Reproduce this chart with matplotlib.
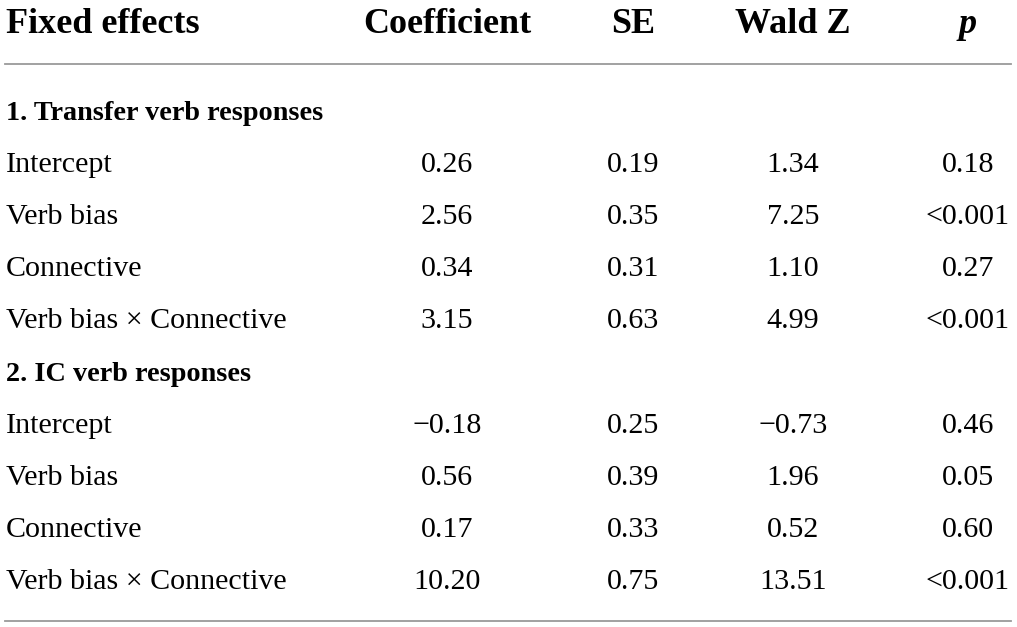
import matplotlib
matplotlib.use("Agg")
import matplotlib.pyplot as plt

# =============================================================================
# DATOS DE LA TABLA
# =============================================================================

headers = ["Fixed effects", "Coefficient", "SE", "Wald Z", "p"]
sections = ["1. Transfer verb responses", "2. IC verb responses"]
effects = ["Intercept", "Verb bias", "Connective", "Verb bias \u00d7 Connective"]

coef = [[0.26, 2.56, 0.34, 3.15], [-0.18, 0.56, 0.17, 10.20]]
se = [[0.19, 0.35, 0.31, 0.63], [0.25, 0.39, 0.33, 0.75]]
wald_z = [[1.34, 7.25, 1.10, 4.99], [-0.73, 1.96, 0.52, 13.51]]
p_vals = [["0.18", "<0.001", "0.27", "<0.001"], ["0.46", "0.05", "0.60", "<0.001"]]

# =============================================================================
# DIBUJO
# =============================================================================

W, H = 1017, 627
fig = plt.figure(figsize=(W / 100, H / 100), dpi=100)
ax = fig.add_axes([0, 0, 1, 1])
ax.set_xlim(0, W)
ax.set_ylim(H, 0)
ax.axis("off")

FONT = "Liberation Serif"
col_x = [6, 447, 633, 793, 968]
body_size = 21.6
sec_size = 20.3
head_size = 26


def fmt(v):
    return f"{v:.2f}".replace("-", "\u2212")


# cabecera
for i, h in enumerate(headers):
    ax.text(col_x[i], 33, h, ha="left" if i == 0 else "center", va="baseline",
            fontsize=head_size, fontweight="bold", family=FONT,
            style="italic" if h == "p" else "normal")

ax.plot([5, 1011], [64, 64], color="#9a9a9a", lw=1.3)
ax.plot([5, 1011], [621, 621], color="#9a9a9a", lw=1.3)

row_h = 52.1
y = 120
for s, sec in enumerate(sections):
    ax.text(col_x[0], y, sec, ha="left", va="baseline", fontsize=sec_size,
            fontweight="bold", family=FONT)
    y += row_h
    for r, eff in enumerate(effects):
        vals = [fmt(coef[s][r]), fmt(se[s][r]), fmt(wald_z[s][r]), p_vals[s][r]]
        ax.text(col_x[0], y, eff, ha="left", va="baseline", fontsize=body_size,
                family=FONT)
        for c, v in enumerate(vals):
            ax.text(col_x[c + 1], y, v, ha="center", va="baseline",
                    fontsize=body_size, family=FONT)
        y += row_h

plt.savefig("out.png", dpi=100)
